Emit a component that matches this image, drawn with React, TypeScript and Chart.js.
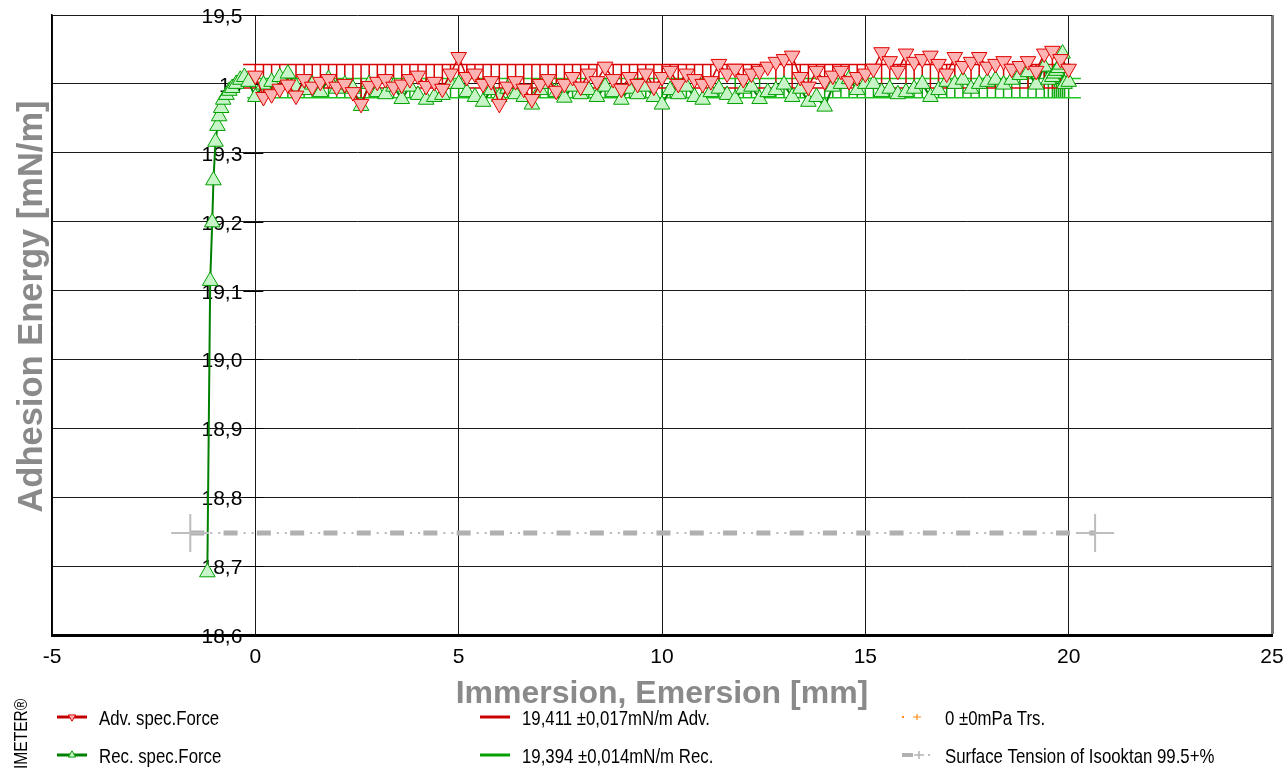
import React, { useEffect, useRef } from 'react';
import { Chart, registerables } from 'chart.js';

Chart.register(...registerables);

const FONT = "'Liberation Sans', Arial, Helvetica, sans-serif";

const xTickLabels = ['-5', '0', '5', '10', '15', '20', '25'];
const yTickLabels = ['18,6', '18,7', '18,8', '18,9', '19,0', '19,1', '19,2', '19,3', '19', '19,5'];
const xTitle = 'Immersion, Emersion [mm]';
const yTitle = 'Adhesion Energy [mN/m]';
const brandText = 'IMETER®';

const advX = [0, 0.2, 0.4, 0.6, 0.8, 1, 1.2, 1.4, 1.6, 1.8, 2, 2.2, 2.4, 2.6, 2.8, 3, 3.2, 3.4, 3.6, 3.8, 4, 4.2, 4.4, 4.6, 4.8,
  5, 5.2, 5.4, 5.6, 5.8, 6, 6.2, 6.4, 6.6, 6.8, 7, 7.2, 7.4, 7.6, 7.8, 8, 8.2, 8.4, 8.6, 8.8, 9, 9.2, 9.4, 9.6, 9.8,
  10, 10.2, 10.4, 10.6, 10.8, 11, 11.2, 11.4, 11.6, 11.8, 12, 12.2, 12.4, 12.6, 12.8, 13, 13.2, 13.4, 13.6, 13.8, 14, 14.2, 14.4, 14.6, 14.8,
  15, 15.2, 15.4, 15.6, 15.8, 16, 16.2, 16.4, 16.6, 16.8, 17, 17.2, 17.4, 17.6, 17.8, 18, 18.2, 18.4, 18.6, 18.8, 19, 19.2, 19.4, 19.6, 19.8, 20];
const advY = [19.412, 19.381, 19.385, 19.393, 19.399, 19.383, 19.407, 19.396, 19.403, 19.407, 19.396, 19.400, 19.388, 19.371, 19.397, 19.403, 19.407, 19.396, 19.399, 19.407, 19.412, 19.397, 19.403, 19.393, 19.415,
  19.439, 19.410, 19.415, 19.400, 19.404, 19.371, 19.396, 19.404, 19.393, 19.378, 19.400, 19.407, 19.390, 19.400, 19.410, 19.396, 19.415, 19.404, 19.425, 19.407, 19.393, 19.410, 19.400, 19.415, 19.396,
  19.410, 19.419, 19.400, 19.415, 19.407, 19.400, 19.404, 19.429, 19.415, 19.422, 19.407, 19.415, 19.419, 19.425, 19.432, 19.436, 19.441, 19.410, 19.396, 19.419, 19.404, 19.412, 19.419, 19.404, 19.410,
  19.415, 19.422, 19.446, 19.433, 19.419, 19.444, 19.432, 19.436, 19.441, 19.429, 19.415, 19.439, 19.426, 19.432, 19.439, 19.425, 19.429, 19.433, 19.422, 19.426, 19.433, 19.419, 19.444, 19.448, 19.436, 19.422];

const recX = [-1.18, -1.11, -1.06, -1.03, -0.98, -0.93, -0.89, -0.84, -0.79, -0.71, -0.64, -0.57, -0.47, -0.37, -0.27, -0.17,
  0, 0.2, 0.4, 0.6, 0.8, 1, 1.2, 1.4, 1.6, 1.8, 2, 2.2, 2.4, 2.6, 2.8, 3, 3.2, 3.4, 3.6, 3.8, 4, 4.2, 4.4, 4.6, 4.8,
  5, 5.2, 5.4, 5.6, 5.8, 6, 6.2, 6.4, 6.6, 6.8, 7, 7.2, 7.4, 7.6, 7.8, 8, 8.2, 8.4, 8.6, 8.8, 9, 9.2, 9.4, 9.6, 9.8,
  10, 10.2, 10.4, 10.6, 10.8, 11, 11.2, 11.4, 11.6, 11.8, 12, 12.2, 12.4, 12.6, 12.8, 13, 13.2, 13.4, 13.6, 13.8, 14, 14.2, 14.4, 14.6, 14.8,
  15, 15.2, 15.4, 15.6, 15.8, 16, 16.2, 16.4, 16.6, 16.8, 17, 17.2, 17.4, 17.6, 17.8, 18, 18.2, 18.4, 18.6, 18.8, 19, 19.2, 19.4,
  19.5, 19.6, 19.65, 19.7, 19.75, 19.8, 19.85, 19.9, 20];
const recY = [18.691, 19.114, 19.199, 19.260, 19.316, 19.339, 19.353, 19.365, 19.377, 19.384, 19.390, 19.394, 19.400, 19.406, 19.410, 19.403,
  19.381, 19.399, 19.403, 19.410, 19.415, 19.396, 19.391, 19.399, 19.388, 19.407, 19.393, 19.399, 19.393, 19.368, 19.400, 19.388, 19.385, 19.396, 19.378, 19.396, 19.384, 19.377, 19.381, 19.384, 19.400,
  19.400, 19.388, 19.381, 19.374, 19.391, 19.381, 19.393, 19.385, 19.381, 19.370, 19.391, 19.400, 19.388, 19.380, 19.396, 19.385, 19.391, 19.381, 19.396, 19.388, 19.377, 19.393, 19.385, 19.396, 19.381,
  19.370, 19.391, 19.385, 19.396, 19.381, 19.377, 19.388, 19.393, 19.384, 19.378, 19.393, 19.396, 19.378, 19.388, 19.391, 19.399, 19.381, 19.393, 19.374, 19.381, 19.367, 19.396, 19.400, 19.407, 19.391,
  19.400, 19.400, 19.388, 19.393, 19.385, 19.388, 19.393, 19.400, 19.381, 19.391, 19.403, 19.400, 19.406, 19.393, 19.400, 19.403, 19.406, 19.399, 19.406, 19.413, 19.417, 19.399, 19.425,
  19.406, 19.410, 19.415, 19.419, 19.423, 19.428, 19.444, 19.400, 19.403];

// mean, standard deviation
const advStats = [19.411, 0.017];
const recStats = [19.394, 0.014];
const advBandX = [-0.3, 20.05];
const recBandX = [-0.2, 20.3];

const trsX: number[] = [];
const trsY: number[] = [];

const surfaceX = [-1.6, 20.65];
const surfaceY = [18.748, 18.748];

type P = { x: number; y: number | null };

function pts(xs: number[], ys: number[]): P[] {
  return xs.map((x, i) => ({ x, y: ys[i] }));
}

function band(xr: number[], stats: number[]): P[] {
  const hi = stats[0] + stats[1];
  const lo = stats[0] - stats[1];
  return [
    { x: xr[0], y: hi }, { x: xr[1], y: hi }, { x: xr[1], y: null },
    { x: xr[0], y: lo }, { x: xr[1], y: lo },
  ];
}

function drops(xs: number[], ys: number[], stats: number[], towardHigh: (v: number, lo: number, hi: number) => boolean): P[] {
  const hi = stats[0] + stats[1];
  const lo = stats[0] - stats[1];
  const out: P[] = [];
  xs.forEach((x, i) => {
    if (x < 0) return;
    const v = ys[i];
    const t = towardHigh(v, lo, hi) ? hi : lo;
    out.push({ x, y: v }, { x, y: t }, { x, y: null });
  });
  return out;
}

function tri(ctx: CanvasRenderingContext2D, cx: number, cy: number, r: number, down: boolean, fill: string, stroke: string) {
  const s = down ? -1 : 1;
  ctx.beginPath();
  ctx.moveTo(cx, cy - s * r);
  ctx.lineTo(cx + r * 0.866, cy + (s * r) / 2);
  ctx.lineTo(cx - r * 0.866, cy + (s * r) / 2);
  ctx.closePath();
  ctx.fillStyle = fill;
  ctx.fill();
  ctx.strokeStyle = stroke;
  ctx.lineWidth = 1;
  ctx.stroke();
}

const decorPlugin = {
  id: 'decor',
  beforeDatasetsDraw(chart: any) {
    const { ctx, scales } = chart;
    const xs = scales.x;
    const ys = scales.y;
    const x0 = xs.getPixelForValue(0);
    ctx.save();
    ctx.strokeStyle = '#000';
    ctx.lineWidth = 1;
    ctx.fillStyle = '#000';
    ctx.font = `21px ${FONT}`;
    ctx.textAlign = 'right';
    ctx.textBaseline = 'middle';
    ys.ticks.forEach((t: any, i: number) => {
      const py = Math.round(ys.getPixelForValue(t.value)) + 0.5;
      ctx.beginPath();
      ctx.moveTo(x0 - 12, py);
      ctx.lineTo(x0 + 8, py);
      ctx.stroke();
      ctx.fillText(yTickLabels[i] ?? '', x0 - 13, py + 1.5);
    });
    ctx.restore();
  },
  afterDraw(chart: any) {
    const { ctx, chartArea } = chart;
    const ds = chart.data.datasets;
    ctx.save();
    // axis titles
    ctx.fillStyle = '#8a8a8a';
    ctx.font = `bold 32px ${FONT}`;
    ctx.textAlign = 'center';
    ctx.textBaseline = 'alphabetic';
    ctx.fillText(xTitle, (chartArea.left + chartArea.right) / 2, 703);
    ctx.save();
    ctx.translate(42, 306.5);
    ctx.rotate(-Math.PI / 2);
    ctx.font = `bold 34.5px ${FONT}`;
    ctx.fillText(yTitle, 0, 0);
    ctx.restore();
    // brand
    ctx.save();
    ctx.translate(27, 769);
    ctx.rotate(-Math.PI / 2);
    ctx.scale(0.82, 1);
    ctx.fillStyle = '#000';
    ctx.font = `19px ${FONT}`;
    ctx.textAlign = 'left';
    ctx.fillText(brandText, 0, 0);
    ctx.restore();

    // legend
    const txt = (s: string, x: number, y: number) => {
      ctx.save();
      ctx.translate(x, y);
      ctx.scale(0.8, 1);
      ctx.fillStyle = '#000';
      ctx.font = `21px ${FONT}`;
      ctx.textAlign = 'left';
      ctx.textBaseline = 'alphabetic';
      ctx.fillText(s, 0, 0);
      ctx.restore();
    };
    const hline = (x1: number, x2: number, y: number, c: string, w: number) => {
      ctx.beginPath();
      ctx.moveTo(x1, y);
      ctx.lineTo(x2, y);
      ctx.strokeStyle = c;
      ctx.lineWidth = w;
      ctx.stroke();
    };
    const cross = (cx: number, cy: number, rx: number, ry: number, c: string, w: number) => {
      ctx.beginPath();
      ctx.moveTo(cx - rx, cy);
      ctx.lineTo(cx + rx, cy);
      ctx.moveTo(cx, cy - ry);
      ctx.lineTo(cx, cy + ry);
      ctx.strokeStyle = c;
      ctx.lineWidth = w;
      ctx.stroke();
    };
    const r0 = 717, r1 = 755, b0 = 725, b1 = 763;
    // column 1
    hline(57, 87, r0, '#c00000', 3);
    tri(ctx, 72, r0, 4.2, true, '#ffb4b4', '#e00000');
    txt(ds[0].label, 99, b0);
    hline(57, 87, r1, '#008000', 3);
    tri(ctx, 72, r1, 4.2, false, '#c8f5c8', '#00a000');
    txt(ds[1].label, 99, b1);
    // column 2
    hline(480, 510, r0, '#c80000', 3);
    txt(ds[2].label, 522, b0);
    hline(480, 510, r1, '#00a000', 3);
    txt(ds[3].label, 522, b1);
    // column 3
    ctx.fillStyle = '#ff8c1a';
    ctx.fillRect(902, r0 - 1, 2, 2);
    cross(917, r0, 4, 3, '#ff8c1a', 1.2);
    txt(ds[6].label, 945, b0);
    hline(902, 913, r1, '#b0b0b0', 4);
    cross(919, r1, 5, 4, '#b4b4b4', 1.5);
    ctx.fillStyle = '#bdbdbd';
    ctx.fillRect(928, r1 - 1, 2, 2);
    txt(ds[7].label, 945, b1);
    ctx.restore();
  },
};

export default function App() {
  const ref = useRef<HTMLCanvasElement>(null);

  useEffect(() => {
    document.body.style.margin = '0';
    document.body.style.overflow = 'hidden';
    const canvas = ref.current;
    if (!canvas) return;

    const advHi = (v: number, lo: number, hi: number) => v < hi;
    const recHi = (v: number, lo: number, hi: number) => !(v > lo);

    const chart = new Chart(canvas, {
      type: 'line',
      data: {
        datasets: [
          {
            label: 'Adv. spec.Force',
            data: pts(advX, advY),
            borderColor: '#cc0000',
            borderWidth: 1.5,
            pointStyle: 'triangle',
            pointRotation: 180,
            pointRadius: 9,
            pointBackgroundColor: '#ffb4b4',
            pointBorderColor: '#e00000',
            pointBorderWidth: 1,
            tension: 0,
            order: 1,
          },
          {
            label: 'Rec. spec.Force',
            data: pts(recX, recY),
            borderColor: '#008000',
            borderWidth: 2,
            pointStyle: 'triangle',
            pointRadius: 9,
            pointBackgroundColor: '#c8f5c8',
            pointBorderColor: '#00a000',
            pointBorderWidth: 1,
            tension: 0,
            order: 2,
          },
          {
            label: '19,411 ±0,017mN/m Adv.',
            data: band(advBandX, advStats),
            borderColor: '#dd0000',
            borderWidth: 1.5,
            pointRadius: 0,
            spanGaps: false,
            order: 4,
          },
          {
            label: '19,394 ±0,014mN/m Rec.',
            data: band(recBandX, recStats),
            borderColor: '#1ec81e',
            borderWidth: 1.5,
            pointRadius: 0,
            spanGaps: false,
            order: 5,
          },
          {
            label: 'adv-drops',
            data: drops(advX, advY, advStats, advHi),
            borderColor: '#d40000',
            borderWidth: 1.5,
            pointRadius: 0,
            spanGaps: false,
            order: 4,
          },
          {
            label: 'rec-drops',
            data: drops(recX, recY, recStats, recHi),
            borderColor: '#10a810',
            borderWidth: 1.5,
            pointRadius: 0,
            spanGaps: false,
            order: 5,
          },
          {
            label: '0 ±0mPa Trs.',
            data: pts(trsX, trsY),
            borderColor: '#ff8c1a',
            borderWidth: 1,
            borderDash: [2, 4],
            pointStyle: 'cross',
            pointRadius: 4,
            order: 6,
          },
          {
            label: 'Surface Tension of Isooktan 99.5+%',
            data: pts(surfaceX, surfaceY),
            borderColor: '#b0b0b0',
            borderWidth: 5,
            borderDash: [14, 19.3],
            pointStyle: 'cross',
            pointRadius: 19,
            pointBorderColor: '#bdbdbd',
            pointBorderWidth: 2,
            pointBackgroundColor: '#bdbdbd',
            order: 0,
          },
          {
            label: 'surface-dots',
            data: pts(surfaceX, surfaceY),
            borderColor: '#b8b8b8',
            borderWidth: 2,
            borderDash: [2, 6, 2, 23.3],
            borderDashOffset: 13.3,
            pointRadius: 0,
            order: 0,
          },
        ],
      },
      options: {
        responsive: false,
        animation: false,
        devicePixelRatio: 1,
        layout: { autoPadding: false, padding: { top: 15, right: 12, bottom: 0, left: 0 } },
        plugins: {
          legend: { display: false },
          tooltip: { enabled: false },
          title: { display: false },
        },
        events: [],
        scales: {
          x: {
            type: 'linear',
            position: 'bottom',
            min: -5,
            max: 25,
            ticks: {
              stepSize: 5,
              autoSkip: false,
              maxRotation: 0,
              padding: 10,
              color: '#000',
              font: { family: FONT, size: 21 },
              callback: (_v: any, i: number) => xTickLabels[i] ?? '',
            },
            grid: {
              drawTicks: false,
              color: (c: any) => (c.tick && c.tick.value === 25 ? '#7a7a7a' : '#1a1a1a'),
              lineWidth: (c: any) => (c.tick && c.tick.value === 25 ? 3 : 1),
            },
            border: { color: '#000', width: 3 },
            afterFit: (s: any) => {
              s.height = 133;
              s.paddingLeft = 0;
              s.paddingRight = 0;
              s.paddingTop = 0;
              s.paddingBottom = 0;
            },
          },
          y: {
            type: 'linear',
            position: 'left',
            min: 18.6,
            max: 19.5,
            ticks: { display: false, stepSize: 0.1 },
            grid: { drawTicks: false, color: '#1a1a1a', lineWidth: 1 },
            border: { color: '#000', width: 1.5 },
            afterFit: (s: any) => {
              s.width = 52;
              s.paddingLeft = 0;
              s.paddingRight = 0;
              s.paddingTop = 0;
              s.paddingBottom = 0;
            },
          },
        },
      },
      plugins: [decorPlugin],
    } as any);

    return () => chart.destroy();
  }, []);

  return (
    <div style={{ width: 1284, height: 768, position: 'relative', background: '#fff', overflow: 'hidden' }}>
      <canvas ref={ref} width={1284} height={768} style={{ display: 'block' }} />
    </div>
  );
}
